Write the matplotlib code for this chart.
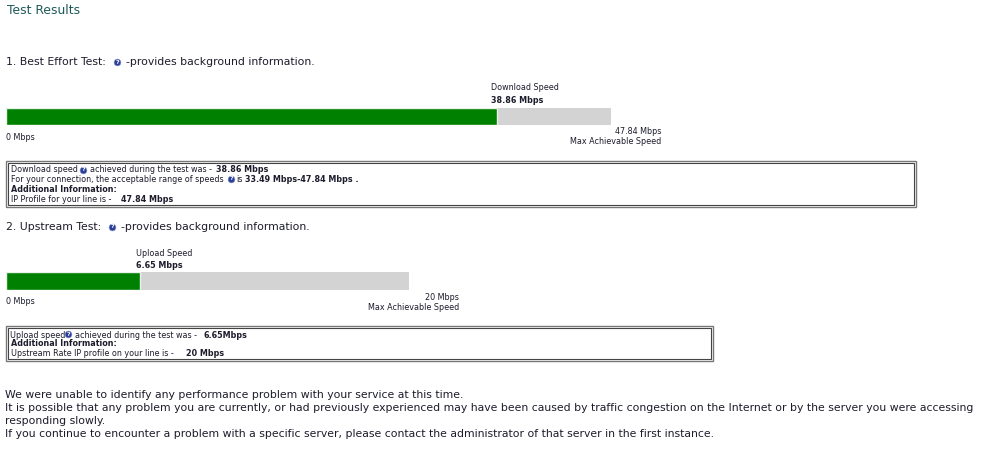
import matplotlib
matplotlib.use('Agg')
import matplotlib.pyplot as plt
from matplotlib.patches import Rectangle

W, H = 999, 453

# Speeds (Mbps)
tests = ['Download', 'Upload']
measured = [38.86, 6.65]
maximum = [47.84, 20]

GREEN = '#008000'
GREY = '#d3d3d3'
TEXT = '#1c1c2c'
SMALL = 5.75
BODY = 7.8


# Axes positioned in page pixels
def page_axes(x0, y0, x1, y1):
    return fig.add_axes([x0 / W, 1 - y1 / H, (x1 - x0) / W, (y1 - y0) / H])


# Horizontal speed bar, grey track with green part on top
def speed_bar(x0, x1, y0, y1, value, top):
    ax = page_axes(x0, y0, x1, y1)
    ax.barh([0], [top], height=1, color=GREY, edgecolor='none')
    ax.barh([0], [value], height=1, color=GREEN, edgecolor='#e8f2e8', linewidth=1)
    ax.set_xlim(0, top)
    ax.set_ylim(-0.5, 0.5)
    ax.axis('off')


def put(x, y, s, size=SMALL, bold=False, color=TEXT, ha='left'):
    page.text(x, y, s, fontsize=size, fontweight='bold' if bold else 'normal',
              color=color, ha=ha, va='center')


# Little blue question mark icon
def icon(x, y):
    page.scatter([x], [y], s=24, color='#2a3f9a', edgecolor='#8a94c8', linewidth=0.4, zorder=3)
    page.text(x, y, '?', fontsize=4.5, fontweight='bold', color='white', ha='center', va='center', zorder=4)


# Double border info box
def info_box(x0, y0, x1, y1):
    page.add_patch(Rectangle((x0, y0), x1 - x0, y1 - y0, fill=False, edgecolor='#777777', linewidth=1.0))
    page.add_patch(Rectangle((x0 + 2, y0 + 2), x1 - x0 - 4, y1 - y0 - 4, fill=False, edgecolor='#444444', linewidth=0.8))


fig = plt.figure(figsize=(W / 100, H / 100), dpi=100, facecolor='white')
plt.rcParams['font.family'] = ['DejaVu Sans']

page = page_axes(0, 0, W, H)
page.set_xlim(0, W)
page.set_ylim(H, 0)
page.axis('off')

speed_bar(6, 611, 108, 124.5, measured[0], maximum[0])
speed_bar(6, 409, 272, 289.5, measured[1], maximum[1])

put(7, 11, 'Test Results', size=8.9, color='#1f5a5a')

# Best effort section
put(6, 62, '1. Best Effort Test:', size=BODY)
icon(117, 62)
put(126, 62, '-provides background information.', size=BODY)

put(491, 88, tests[0] + ' Speed')
put(491, 100.5, '%.2f Mbps' % measured[0], bold=True)
put(6, 137.5, '0 Mbps')
put(661, 132, '%.2f Mbps' % maximum[0], ha='right')
put(661, 142, 'Max Achievable Speed', ha='right')

info_box(6, 161, 916, 207)
put(11, 170, 'Download speed')
icon(83, 169.5)
put(90, 170, 'achieved during the test was -')
put(216, 170, '38.86 Mbps', bold=True)
put(11, 179.5, 'For your connection, the acceptable range of speeds')
icon(231, 179)
put(236, 179.5, 'is')
put(245, 179.5, '33.49 Mbps-47.84 Mbps .', bold=True)
put(11, 189, 'Additional Information:', bold=True)
put(11, 199, 'IP Profile for your line is -')
put(121, 199, '47.84 Mbps', bold=True)

# Upstream section
put(6, 227, '2. Upstream Test:', size=BODY)
icon(112, 227)
put(121, 227, '-provides background information.', size=BODY)

put(136, 253, tests[1] + ' Speed')
put(136, 265, '%.2f Mbps' % measured[1], bold=True)
put(6, 302, '0 Mbps')
put(459, 297, '%g Mbps' % maximum[1], ha='right')
put(459, 307, 'Max Achievable Speed', ha='right')

info_box(6, 326, 713, 361)
put(10, 335, 'Upload speed')
icon(68, 334)
put(75, 335, 'achieved during the test was -')
put(204, 335, '6.65Mbps', bold=True)
put(11, 344, 'Additional Information:', bold=True)
put(11, 354, 'Upstream Rate IP profile on your line is -')
put(186, 354, '20 Mbps', bold=True)

# Closing paragraph
put(5, 395, 'We were unable to identify any performance problem with your service at this time.', size=BODY)
put(5, 408, 'It is possible that any problem you are currently, or had previously experienced may have been caused by traffic congestion on the Internet or by the server you were accessing', size=BODY)
put(5, 421, 'responding slowly.', size=BODY)
put(5, 434, 'If you continue to encounter a problem with a specific server, please contact the administrator of that server in the first instance.', size=BODY)

fig.savefig('out.png', dpi=100)
